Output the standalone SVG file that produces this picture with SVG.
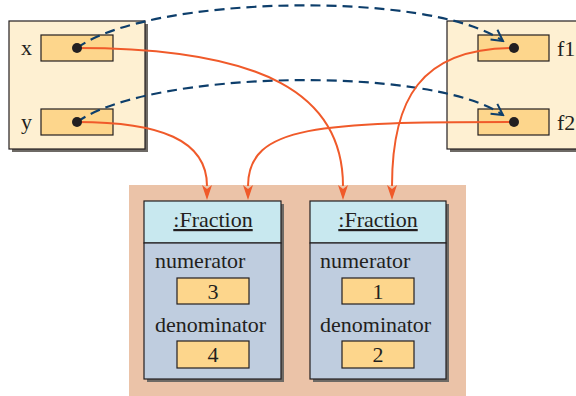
<svg xmlns="http://www.w3.org/2000/svg" width="576" height="396" viewBox="0 0 576 396">
<defs>
<style>
.t{font-family:"Liberation Serif","Times New Roman",serif;fill:#231f20}
.frame{fill:#fef0d2;stroke:#231f20;stroke-width:1.2}
.shadow{fill:#6e6a65}
.slot{fill:#fdd68c;stroke:#231f20;stroke-width:1.2}
.dot{fill:#231f20}
.ref{fill:none;stroke:#f05a2a;stroke-width:2}
.alias{fill:none;stroke:#0d3e6b;stroke-width:2.2;stroke-dasharray:10 6}
.head{fill:#c8e8ef;stroke:#231f20;stroke-width:1.2}
.body{fill:#bfcddf;stroke:#231f20;stroke-width:1.2}
</style>
<marker id="oh" viewBox="-12 -7 14 14" refX="0" refY="0" markerWidth="14" markerHeight="14" markerUnits="userSpaceOnUse" orient="auto">
<path d="M-11,-6 L0,0 L-11,6" fill="none" stroke="#0d3e6b" stroke-width="2"/>
</marker>
</defs>
<rect x="129" y="185" width="337" height="211" fill="#ebc3a8"/>
<g id="left-vars">
<rect class="shadow" x="12" y="24" width="136" height="128"/>
<rect class="frame" x="9" y="21" width="136" height="128"/>
<text class="t" x="21" y="55" font-size="22">x</text>
<rect class="slot" x="41" y="35" width="72" height="26"/>
<text class="t" x="21" y="129" font-size="22">y</text>
<rect class="slot" x="41" y="109" width="72" height="26"/>
</g>
<g id="right-vars">
<rect class="shadow" x="450" y="24" width="140" height="128"/>
<rect class="frame" x="447" y="21" width="140" height="128"/>
<rect class="slot" x="478" y="35" width="71" height="26"/>
<text class="t" x="557" y="56" font-size="22">f1</text>
<rect class="slot" x="478" y="109" width="71" height="26"/>
<text class="t" x="557" y="130" font-size="22">f2</text>
</g>
<g id="fraction1">
<rect class="shadow" x="147" y="204" width="137" height="178"/>
<rect class="head" x="144" y="201" width="137" height="42"/>
<rect class="body" x="144" y="243" width="137" height="136"/>
<text class="t" x="213" y="227" font-size="22" text-anchor="middle" text-decoration="underline">:Fraction</text>
<text class="t" x="155" y="268" font-size="22">numerator</text>
<rect class="slot" x="177" y="278" width="72" height="26"/>
<text class="t" x="213" y="299" font-size="22" text-anchor="middle">3</text>
<text class="t" x="155" y="332" font-size="22">denominator</text>
<rect class="slot" x="177" y="341" width="72" height="27"/>
<text class="t" x="213" y="362" font-size="22" text-anchor="middle">4</text>
</g>
<g id="fraction2">
<rect class="shadow" x="313" y="204" width="136" height="178"/>
<rect class="head" x="310" y="201" width="136" height="42"/>
<rect class="body" x="310" y="243" width="136" height="136"/>
<text class="t" x="378" y="227" font-size="22" text-anchor="middle" text-decoration="underline">:Fraction</text>
<text class="t" x="320" y="268" font-size="22">numerator</text>
<rect class="slot" x="342" y="278" width="72" height="26"/>
<text class="t" x="378" y="299" font-size="22" text-anchor="middle">1</text>
<text class="t" x="320" y="332" font-size="22">denominator</text>
<rect class="slot" x="342" y="341" width="72" height="27"/>
<text class="t" x="378" y="362" font-size="22" text-anchor="middle">2</text>
</g>
<g id="connectors">
<path class="alias" d="M77,48 C150,-5 430,-10 503,41" marker-end="url(#oh)"/>
<path class="alias" d="M77,122 C150,70 430,65 503,115" marker-end="url(#oh)"/>
<path class="ref" d="M77,48 C265,48 343,95 343,186"/>
<path class="ref" d="M77,122 C160,122 207,140 207,186"/>
<path class="ref" d="M514,48 C420,48 392,100 392,186"/>
<path class="ref" d="M514,122 C320,122 248,125 248,186"/>
<g fill="#f05a2a">
<path d="M202,185 L207,189 L212,185 L207,200 Z"/>
<path d="M243,185 L248,189 L253,185 L248,200 Z"/>
<path d="M338,185 L343,189 L348,185 L343,200 Z"/>
<path d="M387,185 L392,189 L397,185 L392,200 Z"/>
</g>
<circle class="dot" cx="77" cy="48" r="5"/>
<circle class="dot" cx="77" cy="122" r="5"/>
<circle class="dot" cx="514" cy="48" r="5"/>
<circle class="dot" cx="514" cy="122" r="5"/>
</g>
</svg>
